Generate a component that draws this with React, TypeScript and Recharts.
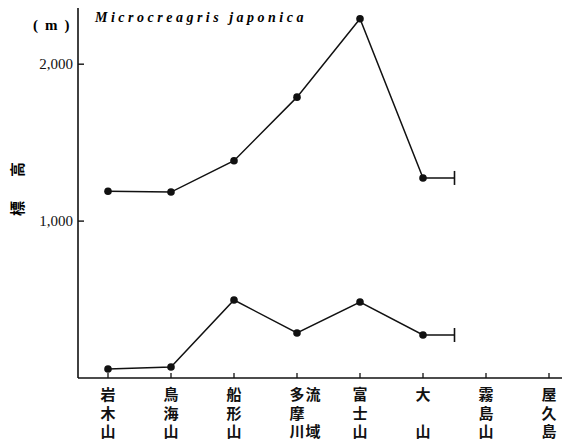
import React from 'react'
import { LineChart, Line, XAxis, YAxis } from 'recharts'

// altitude range of Microcreagris japonica by mountain / area
const sites = ['岩木山', '鳥海山', '船形山', '多摩川流域', '富士山', '大山', '霧島山', '屋久島']
// how each site label is stacked under its tick (one string per column, full-width space = empty row)
const siteColumns = [['岩木山'], ['鳥海山'], ['船形山'], ['多摩川', '流　域'], ['富士山'], ['大　山'], ['霧島山'], ['屋久島']]
const upperAlt = [1190, 1185, 1385, 1790, 2290, 1275]
const lowerAlt = [57, 70, 497, 287, 484, 274]
const capPos = 5.5 // range continues past 大山
const yTicks = [1000, 2000]

const INK = '#111'
const SERIF = '"Liberation Serif", "DejaVu Serif", serif'
const CJK = '"Noto Sans CJK JP", sans-serif'

const data = [
  ...sites.map((s, i) => ({ x: i, site: s, upper: upperAlt[i] ?? null, lower: lowerAlt[i] ?? null, cap: false })),
  { x: capPos, site: '', upper: upperAlt[upperAlt.length - 1], lower: lowerAlt[lowerAlt.length - 1], cap: true },
].sort((a, b) => a.x - b.x)

const Dot = (p: any) => {
  const { cx, cy, payload } = p
  if (cx == null || cy == null || payload?.upper == null) return <g key={p.key} />
  if (payload.cap) {
    return <line key={p.key} x1={cx} x2={cx} y1={cy - 7} y2={cy + 7} stroke={INK} strokeWidth={1.6} />
  }
  return <circle key={p.key} cx={cx} cy={cy} r={3.8} fill={INK} />
}

// y here is the axis line itself (tickSize/tickMargin are 0)
const SiteTick = ({ x, y, payload }: any) => {
  const cols = siteColumns[payload.value] ?? []
  return (
    <g>
      <line x1={x} x2={x} y1={y} y2={y - 5} stroke={INK} strokeWidth={1.3} />
      {cols.map((col, ci) => (
        <text key={ci} x={x + ci * 16} y={y + 9} textAnchor="start"
          style={{ writingMode: 'vertical-rl', letterSpacing: 3.5 }}
          fontFamily={CJK} fontWeight={700} fontSize={15} fill={INK}>
          {col}
        </text>
      ))}
    </g>
  )
}

const AltTick = ({ x, y, payload }: any) => (
  <g>
    <line x1={x} x2={x + 6} y1={y} y2={y} stroke={INK} strokeWidth={1.4} />
    <text x={x - 5} y={y} textAnchor="end" dominantBaseline="central" fontFamily={SERIF} fontSize={15} fill={INK}>
      {payload.value.toLocaleString('en-US')}
    </text>
  </g>
)

export default function App() {
  return (
    <div style={{ position: 'relative', width: 570, height: 443, margin: '-8px -8px 0 -8px', background: '#fff' }}>
      <LineChart width={570} height={443} data={data} margin={{ top: 3, right: 0, left: 0, bottom: 35 }}>
        <XAxis
          dataKey="x"
          type="number"
          domain={[0, 7]}
          ticks={[0, 1, 2, 3, 4, 5, 6, 7]}
          padding={{ left: 30, right: 21 }}
          height={30}
          tickSize={0}
          tickMargin={0}
          tick={<SiteTick />}
          tickLine={false}
          axisLine={{ stroke: INK, strokeWidth: 1.6 }}
          interval={0}
        />
        <YAxis
          width={78}
          domain={[0, 2390]}
          ticks={yTicks}
          tickSize={0}
          tickMargin={0}
          tick={<AltTick />}
          tickLine={false}
          axisLine={{ stroke: INK, strokeWidth: 1.6 }}
        />
        <Line dataKey="upper" stroke={INK} strokeWidth={1.5} dot={<Dot />} activeDot={false} isAnimationActive={false} />
        <Line dataKey="lower" stroke={INK} strokeWidth={1.5} dot={<Dot />} activeDot={false} isAnimationActive={false} />
      </LineChart>

      <div style={{ position: 'absolute', left: 33, top: 17, fontFamily: SERIF, fontWeight: 700, fontSize: 15, letterSpacing: 7, whiteSpace: 'nowrap' }}>
        (m)
      </div>
      <div style={{ position: 'absolute', left: 95, top: 10, fontFamily: SERIF, fontStyle: 'italic', fontWeight: 700, fontSize: 14, letterSpacing: 3.5, whiteSpace: 'nowrap' }}>
        Microcreagris japonica
      </div>
      <div style={{
        position: 'absolute', left: 17 - 50, top: 190 - 10, width: 100, height: 20, lineHeight: '20px',
        textAlign: 'center', transform: 'rotate(-90deg)', fontFamily: CJK, fontWeight: 700, fontSize: 15,
        letterSpacing: 24, paddingLeft: 24, boxSizing: 'border-box', whiteSpace: 'nowrap',
      }}>
        標高
      </div>
    </div>
  )
}
